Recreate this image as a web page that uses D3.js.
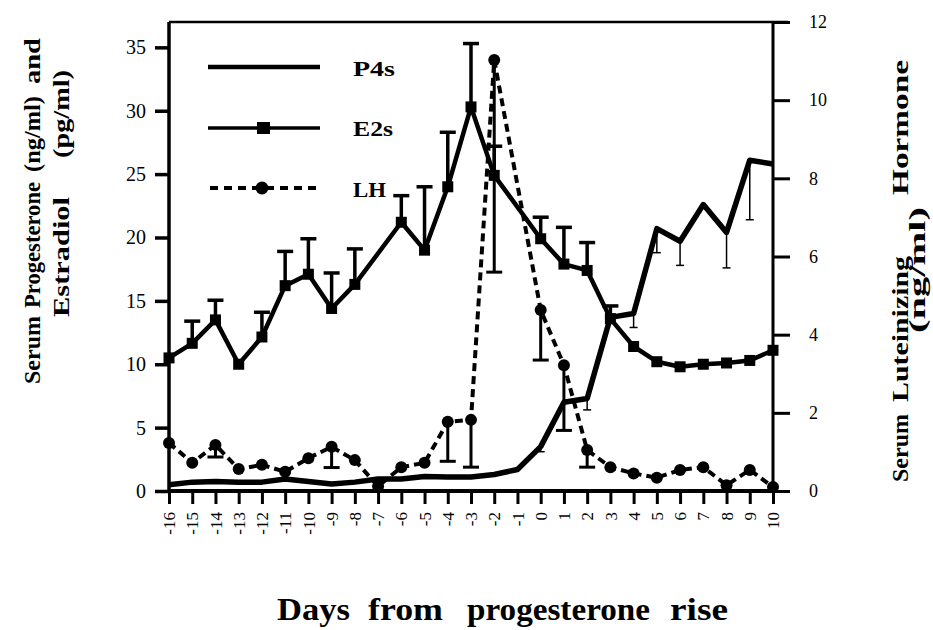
<!DOCTYPE html>
<html>
<head>
<meta charset="utf-8">
<script src="https://cdn.jsdelivr.net/npm/d3@7"></script>
<style>
  html, body { margin: 0; padding: 0; background: #fff; }
  svg { display: block; }
  text { font-family: "Liberation Serif", "DejaVu Serif", serif; fill: #000; }
</style>
</head>
<body>
<div id="chart"></div>
<script>
// Days from progesterone rise
const days = [-16, -15, -14, -13, -12, -11, -10, -9, -8, -7, -6, -5, -4, -3, -2, -1,
  0, 1, 2, 3, 4, 5, 6, 7, 8, 9, 10];

// Serum progesterone (ng/ml), left axis
const p4 = [0.5, 0.7, 0.75, 0.7, 0.7, 0.95, 0.75, 0.55, 0.7, 0.95, 0.95, 1.15, 1.1, 1.1, 1.3, 1.7,
  3.5, 7.0, 7.3, 13.7, 14.0, 20.7, 19.7, 22.6, 20.4, 26.1, 25.8];
const p4Low = [null, null, null, null, null, null, null, null, null, null, null, null, null, null, null, null,
  3.1, null, 6.4, null, 12.9, 18.8, 17.8, null, 17.6, 21.4, null];

// Serum estradiol (pg/ml), left axis
const e2 = [10.5, 11.65, 13.5, 10.0, 12.15, 16.2, 17.1, 14.4, 16.3, null, 21.2, 19.0, 24.0, 30.3, 24.9, null,
  19.9, 17.9, 17.4, 13.6, 11.4, 10.2, 9.8, 10.0, 10.1, 10.3, 11.1];
const e2High = [null, 13.4, 15.05, null, 14.1, 18.9, 19.9, 17.2, 19.1, null, 23.3, 24.0, 28.3, 35.3, 27.2, null,
  21.6, 20.8, 19.6, 14.6, null, null, null, null, null, null, null];

// Serum LH (ng/ml), right axis
const lh = [1.23, 0.72, 1.18, 0.56, 0.67, 0.49, 0.84, 1.13, 0.79, 0.12, 0.61, 0.72, 1.77, 1.82, 11.03, null,
  4.63, 3.22, 1.05, 0.61, 0.45, 0.34, 0.54, 0.61, 0.15, 0.54, 0.1];
const lhLow = [null, null, 0.87, null, null, null, null, 0.6, null, null, null, null, 0.76, 0.61, 5.6, null,
  3.35, 1.55, 0.61, null, null, null, null, null, null, null, null];

const leftTicks = [0, 5, 10, 15, 20, 25, 30, 35];
const rightTicks = [0, 2, 4, 6, 8, 10, 12];

const W = 933, H = 630;
const plot = { left: 169, right: 773, top: 22, bottom: 491 };

const svg = d3.select("#chart").append("svg")
  .attr("width", W).attr("height", H);

const x = d3.scaleLinear().domain([-16, 10]).range([plot.left, plot.right]);
const yL = d3.scaleLinear().domain([0, 37]).range([plot.bottom, plot.top]);
const yR = d3.scaleLinear().domain([0, 12]).range([plot.bottom, plot.top]);

// Axes
const styleAxis = (g, w) => {
  g.select(".domain").remove();
  g.selectAll(".tick line").attr("stroke", "#000").attr("stroke-width", w);
  g.selectAll(".tick text").attr("fill", "#000");
};

svg.append("g")
  .attr("transform", `translate(${plot.left},0)`)
  .call(d3.axisLeft(yL).tickValues(leftTicks).tickSize(14).tickPadding(9))
  .call(g => styleAxis(g, 3.5))
  .selectAll("text").attr("font-size", 20);

svg.append("g")
  .attr("transform", `translate(${plot.right},0)`)
  .call(d3.axisRight(yR).tickValues(rightTicks).tickSize(17).tickPadding(19))
  .call(g => styleAxis(g, 3))
  .selectAll("text").attr("font-size", 18);

svg.append("g")
  .attr("transform", `translate(0,${plot.bottom})`)
  .call(d3.axisBottom(x).tickValues(days).tickSize(13).tickFormat(d => String(d)))
  .call(g => styleAxis(g, 3))
  .selectAll("text")
  .attr("font-size", 17)
  .attr("text-anchor", "end")
  .attr("transform", "rotate(-90)")
  .attr("x", -21).attr("y", 0).attr("dy", "0.33em");

// Frame
svg.append("line").attr("x1", plot.left).attr("x2", plot.right + 15)
  .attr("y1", plot.top).attr("y2", plot.top).attr("stroke", "#000").attr("stroke-width", 2.5);
svg.append("line").attr("x1", plot.left).attr("x2", plot.right)
  .attr("y1", plot.bottom).attr("y2", plot.bottom).attr("stroke", "#000").attr("stroke-width", 4);
svg.append("line").attr("x1", plot.left).attr("x2", plot.left)
  .attr("y1", plot.top).attr("y2", plot.bottom + 2).attr("stroke", "#000").attr("stroke-width", 3.5);
svg.append("line").attr("x1", plot.right).attr("x2", plot.right)
  .attr("y1", plot.top).attr("y2", plot.bottom + 2).attr("stroke", "#000").attr("stroke-width", 3);

const pts = (vals) => days.map((d, i) => ({ d, v: vals[i] })).filter(p => p.v != null);

// P4 line
const p4Pts = pts(p4);
svg.append("path")
  .datum(p4Pts)
  .attr("fill", "none").attr("stroke", "#000").attr("stroke-width", 5.5)
  .attr("stroke-linejoin", "round")
  .attr("d", d3.line().x(p => x(p.d)).y(p => yL(p.v)));

// P4 error bars (thin, downward)
const p4Err = days.map((d, i) => ({ d, v: p4[i], lo: p4Low[i] })).filter(p => p.lo != null);
const p4ErrG = svg.append("g").attr("stroke", "#000").attr("stroke-width", 1.5);
p4ErrG.selectAll("line.v").data(p4Err).join("line")
  .attr("x1", p => x(p.d)).attr("x2", p => x(p.d))
  .attr("y1", p => yL(p.v)).attr("y2", p => yL(p.lo));
p4ErrG.selectAll("line.c").data(p4Err).join("line")
  .attr("x1", p => x(p.d) - 4).attr("x2", p => x(p.d) + 4)
  .attr("y1", p => yL(p.lo)).attr("y2", p => yL(p.lo));

// E2 error bars (upward)
const e2Err = days.map((d, i) => ({ d, v: e2[i], hi: e2High[i] })).filter(p => p.hi != null);
const e2ErrG = svg.append("g").attr("stroke", "#000").attr("stroke-width", 3.5);
e2ErrG.selectAll("line.v").data(e2Err).join("line")
  .attr("x1", p => x(p.d)).attr("x2", p => x(p.d))
  .attr("y1", p => yL(p.v)).attr("y2", p => yL(p.hi));
e2ErrG.selectAll("line.c").data(e2Err).join("line")
  .attr("x1", p => x(p.d) - 8).attr("x2", p => x(p.d) + 8)
  .attr("y1", p => yL(p.hi)).attr("y2", p => yL(p.hi));

// E2 line + squares
const e2Pts = pts(e2);
svg.append("path")
  .datum(e2Pts)
  .attr("fill", "none").attr("stroke", "#000").attr("stroke-width", 4.5)
  .attr("stroke-linejoin", "round")
  .attr("d", d3.line().x(p => x(p.d)).y(p => yL(p.v)));
svg.append("g").selectAll("rect").data(e2Pts).join("rect")
  .attr("x", p => x(p.d) - 5.5).attr("y", p => yL(p.v) - 5.5)
  .attr("width", 11).attr("height", 11).attr("fill", "#000");

// LH error bars (downward)
const lhErr = days.map((d, i) => ({ d, v: lh[i], lo: lhLow[i] })).filter(p => p.lo != null);
const lhErrG = svg.append("g").attr("stroke", "#000").attr("stroke-width", 3);
lhErrG.selectAll("line.v").data(lhErr).join("line")
  .attr("x1", p => x(p.d)).attr("x2", p => x(p.d))
  .attr("y1", p => yR(p.v)).attr("y2", p => yR(p.lo));
lhErrG.selectAll("line.c").data(lhErr).join("line")
  .attr("x1", p => x(p.d) - 8).attr("x2", p => x(p.d) + 8)
  .attr("y1", p => yR(p.lo)).attr("y2", p => yR(p.lo));

// LH dashed line + circles
const lhPts = pts(lh);
svg.append("path")
  .datum(lhPts)
  .attr("fill", "none").attr("stroke", "#000").attr("stroke-width", 4)
  .attr("stroke-dasharray", "8,5")
  .attr("d", d3.line().x(p => x(p.d)).y(p => yR(p.v)));
svg.append("g").selectAll("circle").data(lhPts).join("circle")
  .attr("cx", p => x(p.d)).attr("cy", p => yR(p.v))
  .attr("r", 6).attr("fill", "#000");

// Legend
const legend = svg.append("g");
const lgX1 = 208, lgX2 = 320, lgTx = 353;
legend.append("line").attr("x1", lgX1).attr("x2", lgX2).attr("y1", 67).attr("y2", 67)
  .attr("stroke", "#000").attr("stroke-width", 4.5);
legend.append("line").attr("x1", lgX1).attr("x2", lgX2).attr("y1", 128).attr("y2", 128)
  .attr("stroke", "#000").attr("stroke-width", 3.5);
legend.append("rect").attr("x", 257).attr("y", 122).attr("width", 13).attr("height", 12).attr("fill", "#000");
legend.append("line").attr("x1", lgX1 + 2).attr("x2", lgX2).attr("y1", 188).attr("y2", 188)
  .attr("stroke", "#000").attr("stroke-width", 4).attr("stroke-dasharray", "8,6");
legend.append("circle").attr("cx", 262).attr("cy", 188).attr("r", 6.5).attr("fill", "#000");
[["P4s", 76, 42], ["E2s", 136, 40], ["LH", 197, 33]].forEach(([t, y, len]) => {
  legend.append("text").attr("x", lgTx).attr("y", y)
    .attr("font-size", 22).attr("font-weight", "bold")
    .attr("textLength", len).attr("lengthAdjust", "spacingAndGlyphs").text(t);
});

// Axis titles, word by word so the spacing follows the original
const word = (txt, xPos, yPos, len, size, rotated) => {
  const t = svg.append("text")
    .attr("font-size", size).attr("font-weight", "bold")
    .attr("textLength", len).attr("lengthAdjust", "spacingAndGlyphs")
    .text(txt);
  if (rotated) t.attr("transform", `translate(${xPos},${yPos}) rotate(-90)`);
  else t.attr("x", xPos).attr("y", yPos);
};

[["Days", 277, 73], ["from", 368, 75], ["progesterone", 467, 183], ["rise", 670, 58]]
  .forEach(([t, xs, len]) => word(t, xs, 620, len, 31, false));

[["Serum", 384, 68], ["Progesterone", 308, 126], ["(ng/ml)", 172, 76], ["and", 84, 46]]
  .forEach(([t, ys, len]) => word(t, 40, ys, len, 23, true));
[["Estradiol", 317, 120], ["(pg/ml)", 158, 88]]
  .forEach(([t, ys, len]) => word(t, 69, ys, len, 23, true));

[["Serum", 482, 68], ["Luteinizing", 402, 146], ["Hormone", 195, 135]]
  .forEach(([t, ys, len]) => word(t, 908, ys, len, 23, true));
word("(ng/ml)", 925, 333, 126, 23, true);
</script>
</body>
</html>
